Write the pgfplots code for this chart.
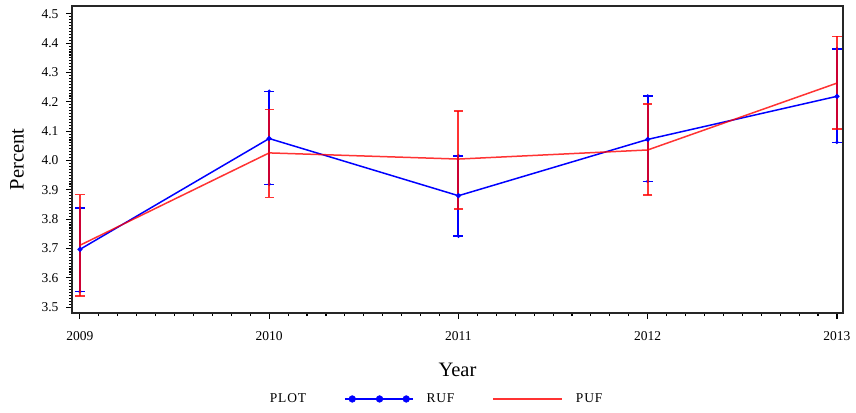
\documentclass[border=0pt]{standalone}
\usepackage{pgfplots}
\pgfplotsset{compat=1.18}
\usepackage{fontspec}
\setmainfont{Liberation Serif}

% cap with a small dot, used for the ends of the RUF intervals
\pgfdeclareplotmark{capdot}{%
  \pgfpathmoveto{\pgfqpoint{-\pgfplotmarksize}{0pt}}%
  \pgfpathlineto{\pgfqpoint{\pgfplotmarksize}{0pt}}%
  \pgfusepathqstroke
  \pgfpathcircle{\pgfpointorigin}{1.9pt}%
  \pgfusepathqfill}

\begin{document}
\begin{tikzpicture}
\useasboundingbox (-72pt,-99pt) rectangle (784pt,313pt);
\begin{axis}[
    scale only axis,
    width=771pt, height=307pt,
    xmin=2008.958, xmax=2013.032,
    ymin=3.48, ymax=4.527,
    xtick={2009,2010,2011,2012,2013},
    minor x tick num=9,
    ytick={3.5,3.6,...,4.5},
    minor y tick num=9,
    xtick pos=bottom, ytick pos=left,
    tick align=outside,
    major tick length=6pt, minor tick length=3pt,
    every tick/.style={black, line width=1.1pt},
    axis line style={black!85, line width=1.5pt},
    /pgf/number format/assume math mode=true,
    xticklabel style={/pgf/number format/1000 sep={}, font=\fontsize{13.5}{15}\selectfont, yshift=-9pt},
    yticklabel style={/pgf/number format/.cd, fixed, fixed zerofill, precision=1, /tikz/.cd, font=\fontsize{13.5}{15}\selectfont, xshift=-4pt},
    xlabel={Year}, ylabel={Percent},
    label style={font=\fontsize{20.5}{24}\selectfont},
    xlabel style={at={(axis description cs:0.5,0)}, anchor=center, yshift=-57pt},
    ylabel style={at={(axis description cs:0,0.5)}, anchor=center, yshift=55pt},
    legend columns=-1,
    legend style={at={(axis description cs:0.2396,-0.28)}, anchor=west,
        draw=none, inner sep=0pt,
        font=\fontsize{13.5}{15}\selectfont\addfontfeatures{LetterSpace=6},
        nodes={inner sep=0pt},
        /tikz/every odd column/.append style={column sep=13pt},
        /tikz/every even column/.append style={column sep=38pt}},
]

% legend: a title entry, then the two series
\addlegendimage{empty legend}
\addlegendentry{PLOT}
\addlegendimage{legend image code/.code={
    \draw[blue, line width=1.5pt] (0pt,0pt) -- (68pt,0pt);
    \fill[blue] (7.4pt,0pt) circle (3.4pt) (34.7pt,0pt) circle (3.4pt) (61.4pt,0pt) circle (3.4pt);}}
\addlegendentry{RUF}
\addlegendimage{legend image code/.code={
    \draw[red, opacity=0.8, line width=1.5pt] (0pt,0pt) -- (69pt,0pt);}}
\addlegendentry{PUF}

% RUF estimates with confidence limits
\addplot[forget plot, blue, line width=1.5pt, mark=*, mark size=1.7pt,
    error bars/.cd, y dir=both, y explicit,
    error bar style={blue, line width=2pt},
    error mark=capdot,
    error mark options={rotate=90, blue, fill=blue, mark size=5pt, line width=1.4pt}]
coordinates {
    (2009, 3.697) += (0, 0.141) -= (0, 0.144)
    (2010, 4.075) += (0, 0.161) -= (0, 0.156)
    (2011, 3.880) += (0, 0.136) -= (0, 0.138)
    (2012, 4.072) += (0, 0.148) -= (0, 0.143)
    (2013, 4.219) += (0, 0.162) -= (0, 0.157)
};

% PUF estimates with confidence limits
\addplot[forget plot, red, opacity=0.8, line width=1.5pt, no markers,
    error bars/.cd, y dir=both, y explicit,
    error bar style={red, line width=2pt},
    error mark=-,
    error mark options={rotate=90, red, mark size=4.6pt, line width=1.8pt}]
coordinates {
    (2009, 3.711) += (0, 0.173) -= (0, 0.173)
    (2010, 4.026) += (0, 0.148) -= (0, 0.152)
    (2011, 4.005) += (0, 0.163) -= (0, 0.170)
    (2012, 4.036) += (0, 0.158) -= (0, 0.153)
    (2013, 4.264) += (0, 0.159) -= (0, 0.156)
};
\end{axis}
\end{tikzpicture}
\end{document}
